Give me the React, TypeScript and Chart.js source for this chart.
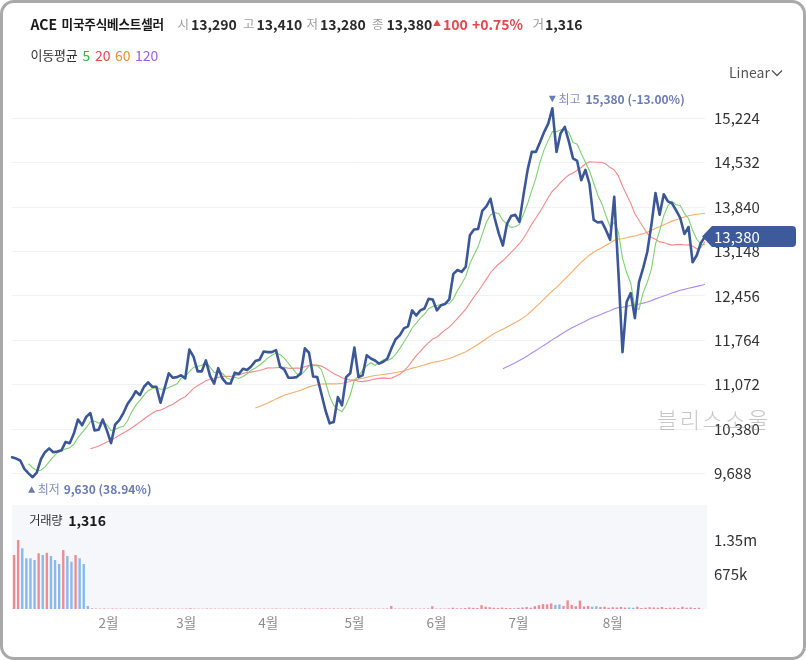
import React, { useEffect, useRef } from "react";
import { Chart, registerables } from "chart.js";

Chart.register(...registerables);

const FONT = '"Noto Sans CJK KR", "Noto Sans", sans-serif';

// Daily closing prices (KRW), one per trading day
const closePrices: number[] = [
  9940, 9920, 9890, 9760, 9690, 9630, 9700, 9910, 10020, 10080,
  10020, 10030, 10050, 10180, 10160, 10310, 10530, 10440, 10570, 10630,
  10360, 10370, 10530, 10360, 10160, 10450, 10520, 10630, 10770, 10860,
  10970, 10910, 11040, 11110, 11040, 11040, 10790, 11020, 11250, 11180,
  11190, 11220, 11170, 11620, 11510, 11280, 11280, 11450, 11210, 11090,
  11330, 11170, 11090, 11090, 11260, 11240, 11320, 11300, 11360, 11440,
  11460, 11590, 11580, 11580, 11610, 11350, 11310, 11180, 11180, 11190,
  11250, 11640, 11570, 11200, 11190, 10930, 10670, 10470, 10490, 10880,
  10750, 11190, 11250, 11650, 11190, 11220, 11530, 11480, 11450, 11400,
  11430, 11480, 11640, 11780, 11840, 11950, 11980, 12230, 12150, 12230,
  12260, 12410, 12400, 12230, 12310, 12330, 12400, 12800, 12860, 12830,
  12910, 13400, 13490, 13500, 13780, 13850, 13970, 13670, 13430, 13240,
  13580, 13700, 13720, 13610, 14030, 14420, 14700, 14700, 14850, 15010,
  15140, 15380, 14700, 14990, 15090, 14860, 14600, 14560, 14260, 14420,
  14200, 13640, 13600, 13610, 13480, 13330, 14000, 12830, 11580, 12360,
  12500, 12110, 12670, 12890, 13140, 13560, 14060, 13720, 14040, 13930,
  13900, 13790, 13670, 13420, 13530, 12980, 13090, 13280, 13380,
];

// Daily traded volume (shares)
const volumes: number[] = [
  1057000, 1350000, 1188000, 992000, 992000, 959000, 1090000, 1057000, 1100000, 1037000,
  959000, 880000, 1154000, 1037000, 925000, 1057000, 992000, 880000, 59000,
  12000, 9000, 8000, 11000, 7000, 10000, 9000, 8000, 6000, 9000,
  7000, 8000, 10000, 6000, 9000, 7000, 12000, 8000, 6000, 9000,
  7000, 8000, 6000, 9000, 15000, 8000, 7000, 6000, 9000, 8000,
  7000, 6000, 8000, 9000, 7000, 6000, 8000, 7000, 9000, 6000,
  8000, 7000, 9000, 6000, 8000, 10000, 7000, 6000, 8000, 9000,
  7000, 8000, 12000, 9000, 7000, 10000, 14000, 11000, 9000, 12000,
  10000, 9000, 8000, 15000, 9000, 8000, 7000, 9000, 8000, 7000,
  8000, 9000, 10000, 60000, 9000, 8000, 10000, 9000, 12000, 8000,
  9000, 10000, 11000, 55000, 9000, 10000, 8000, 12000, 25000, 14000,
  12000, 18000, 30000, 22000, 20000, 75000, 45000, 35000, 25000, 20000,
  28000, 20000, 18000, 15000, 22000, 30000, 40000, 25000, 55000, 75000,
  95000, 90000, 110000, 80000, 90000, 60000, 170000, 80000, 55000, 165000,
  50000, 60000, 45000, 55000, 40000, 45000, 25000, 35000, 30000, 40000,
  28000, 30000, 25000, 45000, 20000, 25000, 35000, 30000, 25000, 40000,
  20000, 25000, 30000, 20000, 45000, 25000, 30000, 20000, 25000, 1316,
];

// Days whose volume bar is drawn as a falling (blue) bar
const volumeDownDays: number[] = [2, 3, 4, 5, 7, 9, 10, 11, 13, 14, 16, 17, 18, 132, 133, 141, 142, 150, 151];

const monthTickIndex: number[] = [23, 42, 62, 83, 103, 123, 146];
const monthTickLabels: string[] = ["2월", "3월", "4월", "5월", "6월", "7월", "8월"];

const priceTicks: number[] = [9688, 10380, 11072, 11764, 12456, 13148, 13840, 14532, 15224];
const volumeTicks: number[] = [675000, 1350000];

const maPeriods: number[] = [5, 20, 60, 120];

const openPrice = 13290;
const highPrice = 13410;
const lowPrice = 13280;

const dayLabels: string[] = closePrices.map((_, i) => String(i));

const MA_LINE_COLORS = ["#7fd072", "#f28a8a", "#f6ac6c", "#ad8cf0"];
const MA_TEXT_COLORS = ["#3cb043", "#f04452", "#f08c2c", "#9b5de5"];
const PRICE_BLUE = "#3b5797";
const ANNOT = "#6a7bb6";

function movingAverage(values: number[], period: number): (number | null)[] {
  return values.map((_, i) => {
    if (i < period - 1) return null;
    let s = 0;
    for (let j = i - period + 1; j <= i; j++) s += values[j];
    return s / period;
  });
}

const fmt = (v: number) => v.toLocaleString("en-US");

export default function App() {
  const priceRef = useRef<HTMLCanvasElement>(null);
  const volRef = useRef<HTMLCanvasElement>(null);

  const last = closePrices[closePrices.length - 1];
  const prev = closePrices[closePrices.length - 2];
  const diff = last - prev;
  const pct = (diff / prev) * 100;
  const lastVolume = volumes[volumes.length - 1];

  useEffect(() => {
    const annotationPlugin = {
      id: "priceAnnotations",
      afterDraw(chart: any) {
        const { ctx } = chart;
        const xs = chart.scales.x;
        const ys = chart.scales.y;
        let maxI = 0;
        let minI = 0;
        closePrices.forEach((v, i) => {
          if (v > closePrices[maxI]) maxI = i;
          if (v < closePrices[minI]) minI = i;
        });
        const lastV = closePrices[closePrices.length - 1];
        ctx.save();
        ctx.textBaseline = "middle";
        {
          const px = xs.getPixelForValue(maxI);
          const py = ys.getPixelForValue(closePrices[maxI]);
          const ty = py - 9;
          ctx.fillStyle = ANNOT;
          ctx.beginPath();
          ctx.moveTo(px - 3.5, ty - 3.5);
          ctx.lineTo(px + 3.5, ty - 3.5);
          ctx.lineTo(px, ty + 3);
          ctx.closePath();
          ctx.fill();
          ctx.textAlign = "left";
          ctx.fillStyle = "#8190c4";
          ctx.font = `12px ${FONT}`;
          ctx.fillText("최고", px + 6, ty);
          ctx.fillStyle = ANNOT;
          ctx.font = `bold 12px ${FONT}`;
          const p = ((lastV / closePrices[maxI]) - 1) * 100;
          ctx.fillText(`${fmt(closePrices[maxI])} (${p.toFixed(2)}%)`, px + 33, ty);
        }
        {
          const px = xs.getPixelForValue(minI);
          const py = ys.getPixelForValue(closePrices[minI]);
          const ty = py + 12;
          const tx = px - 1;
          ctx.fillStyle = ANNOT;
          ctx.beginPath();
          ctx.moveTo(tx - 3.5, ty + 3.5);
          ctx.lineTo(tx + 3.5, ty + 3.5);
          ctx.lineTo(tx, ty - 3);
          ctx.closePath();
          ctx.fill();
          ctx.textAlign = "left";
          ctx.fillStyle = "#8190c4";
          ctx.font = `12px ${FONT}`;
          ctx.fillText("최저", px + 5, ty);
          ctx.fillStyle = ANNOT;
          ctx.font = `bold 12px ${FONT}`;
          const p = ((lastV / closePrices[minI]) - 1) * 100;
          ctx.fillText(`${fmt(closePrices[minI])} (${p.toFixed(2)}%)`, px + 31, ty);
        }
        {
          const y = ys.getPixelForValue(lastV);
          const h = 10.5;
          const tip = 702;
          const bodyL = 712;
          const right = 796;
          const r = 4;
          ctx.fillStyle = "#3d5a9b";
          ctx.beginPath();
          ctx.moveTo(tip, y);
          ctx.lineTo(bodyL, y - h);
          ctx.lineTo(right - r, y - h);
          ctx.quadraticCurveTo(right, y - h, right, y - h + r);
          ctx.lineTo(right, y + h - r);
          ctx.quadraticCurveTo(right, y + h, right - r, y + h);
          ctx.lineTo(bodyL, y + h);
          ctx.closePath();
          ctx.fill();
          ctx.fillStyle = "#ffffff";
          ctx.font = `15px ${FONT}`;
          ctx.textAlign = "left";
          ctx.fillText(fmt(lastV), 714, y + 0.5);
        }
        ctx.restore();
      },
    };

    const datasets: any[] = [
      {
        label: "종가",
        data: closePrices,
        borderColor: PRICE_BLUE,
        borderWidth: 2.6,
        pointRadius: 0,
        tension: 0,
        order: 0,
        borderJoinStyle: "round",
        borderCapStyle: "round",
      },
      ...maPeriods.map((p, k) => ({
        label: `MA${p}`,
        data: movingAverage(closePrices, p),
        borderColor: MA_LINE_COLORS[k],
        borderWidth: 1.1,
        pointRadius: 0,
        tension: 0,
        order: k + 1,
      })),
    ];

    const priceChart = new Chart(priceRef.current as HTMLCanvasElement, {
      type: "line",
      data: { labels: dayLabels, datasets },
      options: {
        animation: false,
        responsive: false,
        maintainAspectRatio: false,
        events: [],
        layout: { padding: { left: 12, right: 0, top: 85, bottom: 160 } },
        plugins: { legend: { display: false }, tooltip: { enabled: false } },
        scales: {
          x: { type: "category", display: false, offset: false },
          y: {
            position: "right",
            min: 9275,
            max: 15743,
            afterBuildTicks: (s: any) => {
              s.ticks = priceTicks.map((v) => ({ value: v }));
            },
            afterFit: (s: any) => {
              s.width = 101;
            },
            ticks: {
              color: "#333333",
              font: { family: FONT, size: 15 },
              padding: 9,
              callback: (v: any) => fmt(Number(v)),
            },
            grid: { color: "#f0f1f3", drawTicks: false, lineWidth: 1 },
            border: { display: false },
          },
        },
      } as any,
      plugins: [annotationPlugin],
    });

    const volumeBgPlugin = {
      id: "volumeBg",
      beforeDatasetsDraw(chart: any) {
        const { ctx, chartArea } = chart;
        ctx.save();
        ctx.fillStyle = "#f5f7fa";
        ctx.fillRect(chartArea.left, chartArea.top, chartArea.right - chartArea.left + 2, chartArea.bottom - chartArea.top);
        ctx.restore();
      },
    };

    const volumeChart = new Chart(volRef.current as HTMLCanvasElement, {
      type: "bar",
      data: {
        labels: dayLabels,
        datasets: [
          {
            label: "거래량",
            data: volumes,
            backgroundColor: volumes.map((_, i) => (volumeDownDays.includes(i) ? "#8ab8ee" : "#ee8c94")),
            barPercentage: 0.58,
            categoryPercentage: 1,
            borderWidth: 0,
          },
        ],
      },
      options: {
        animation: false,
        responsive: false,
        maintainAspectRatio: false,
        events: [],
        layout: { padding: { left: 12, right: 0, top: 505, bottom: 22 } },
        plugins: { legend: { display: false }, tooltip: { enabled: false } },
        scales: {
          x: {
            type: "category",
            offset: true,
            grid: { display: false, drawTicks: false },
            border: { display: false },
            afterFit: (s: any) => {
              s.height = 29;
            },
            ticks: {
              autoSkip: false,
              maxRotation: 0,
              minRotation: 0,
              color: "#8c8c8c",
              font: { family: FONT, size: 13.5 },
              padding: 6,
              callback: (_v: any, i: number) => {
                const k = monthTickIndex.indexOf(i);
                return k >= 0 ? monthTickLabels[k] : "";
              },
            },
          },
          y: {
            position: "right",
            min: 0,
            max: 2035000,
            afterBuildTicks: (s: any) => {
              s.ticks = volumeTicks.map((v) => ({ value: v }));
            },
            afterFit: (s: any) => {
              s.width = 101;
            },
            ticks: {
              color: "#333333",
              font: { family: FONT, size: 15 },
              padding: 9,
              callback: (v: any) => {
                const n = Number(v);
                return n >= 1e6 ? `${n / 1e6}m` : `${n / 1e3}k`;
              },
            },
            grid: { display: false, drawTicks: false },
            border: { display: false },
          },
        },
      } as any,
      plugins: [volumeBgPlugin],
    });

    return () => {
      priceChart.destroy();
      volumeChart.destroy();
    };
  }, []);

  const T = (left: number, cy: number, text: string, style: React.CSSProperties = {}) => (
    <span
      style={{
        position: "absolute",
        left,
        top: cy - 10,
        lineHeight: "20px",
        whiteSpace: "nowrap",
        fontFamily: FONT,
        ...style,
      }}
    >
      {text}
    </span>
  );

  const gray: React.CSSProperties = { color: "#9d9d9d", fontSize: 12.5 };
  const num: React.CSSProperties = { color: "#2b2b2b", fontSize: 14, fontWeight: 700 };
  const red = "#e8464f";

  return (
    <div
      style={{
        position: "fixed",
        left: 0,
        top: 0,
        width: 806,
        height: 660,
        background: "#ffffff",
        overflow: "hidden",
        fontFamily: FONT,
      }}
    >
      <canvas ref={volRef} width={806} height={660} style={{ position: "absolute", left: 0, top: 0, width: 806, height: 660 }} />
      <canvas ref={priceRef} width={806} height={660} style={{ position: "absolute", left: 0, top: 0, width: 806, height: 660 }} />

      {T(30.5, 24, "ACE", { fontSize: 14, fontWeight: 700, color: "#1a1a1a" })}
      {T(61.5, 24, "미국주식베스트셀러", { fontSize: 12.6, fontWeight: 700, color: "#1a1a1a", letterSpacing: -0.2 })}
      {T(177.5, 24, "시", gray)}
      {T(191, 24, fmt(openPrice), num)}
      {T(243, 24, "고", gray)}
      {T(256.5, 24, fmt(highPrice), num)}
      {T(306.5, 24, "저", gray)}
      {T(320, 24, fmt(lowPrice), num)}
      {T(372, 24, "종", gray)}
      {T(386.5, 24, fmt(last), num)}
      {T(433, 23, diff >= 0 ? "▲" : "▼", { fontSize: 8, color: red })}
      {T(443, 24, `${fmt(Math.abs(diff))} ${diff >= 0 ? "+" : ""}${pct.toFixed(2)}%`, { fontSize: 14, fontWeight: 700, color: red, wordSpacing: 1 })}
      {T(532.5, 24, "거", gray)}
      {T(545, 24, fmt(lastVolume), num)}

      {T(30.5, 55, "이동평균", { fontSize: 13, color: "#333", letterSpacing: -0.2 })}
      {maPeriods.map((p, k) =>
        <React.Fragment key={p}>{T([82.5, 95, 115, 135][k], 55, String(p), { fontSize: 14, color: MA_TEXT_COLORS[k] })}</React.Fragment>
      )}

      {T(729, 72, "Linear", { fontSize: 14, color: "#555" })}
      <svg width={12} height={8} style={{ position: "absolute", left: 771, top: 69 }}>
        <polyline points="1,1.5 6,6.5 11,1.5" fill="none" stroke="#555" strokeWidth={1.3} />
      </svg>

      {T(29.3, 519.5, "거래량", { fontSize: 12.3, color: "#333", letterSpacing: -0.3 })}
      {T(68.3, 519.5, fmt(lastVolume), { fontSize: 14, fontWeight: 700, color: "#1a1a1a" })}

      {T(657, 418, "블리스소울", { fontSize: 22, fontWeight: 300, color: "rgba(120,120,120,0.42)", letterSpacing: 2.5 })}

      <div
        style={{
          position: "absolute",
          left: 0,
          top: 0,
          width: 806,
          height: 660,
          border: "3px solid #a9a9a9",
          borderRadius: 14,
          boxSizing: "border-box",
          pointerEvents: "none",
        }}
      />
    </div>
  );
}
